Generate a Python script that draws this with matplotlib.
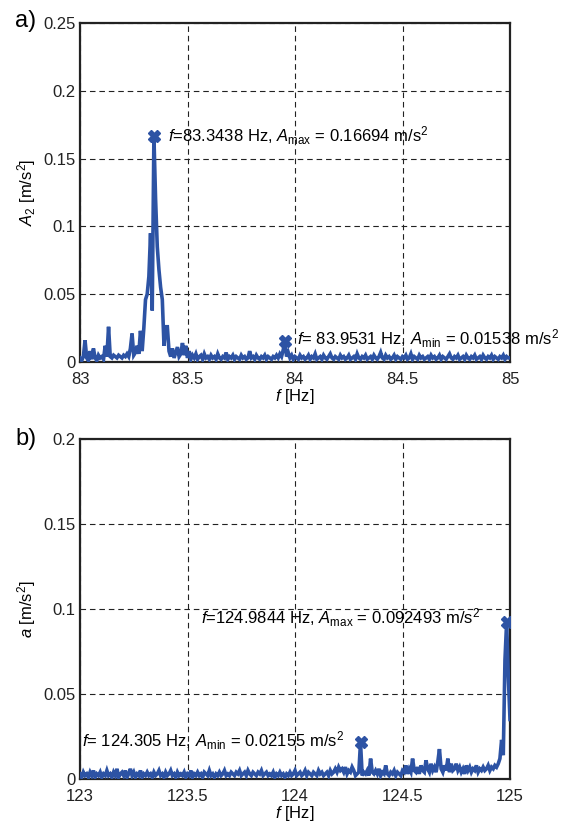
import numpy as np
import matplotlib
matplotlib.use("Agg")
import matplotlib.pyplot as plt

plt.rcParams['font.family'] = ['Liberation Sans', 'DejaVu Sans']
plt.rcParams['mathtext.fontset'] = 'custom'
plt.rcParams['mathtext.rm'] = 'Liberation Sans'
plt.rcParams['mathtext.it'] = 'Liberation Sans:italic'
plt.rcParams['mathtext.bf'] = 'Liberation Sans:bold'

# ---------------- data ----------------
# panel a: 83..85 Hz, step 1/128 Hz, amplitudes in 1e-3 m/s^2
f_a_start, f_a_end = 83.0, 85.0
amp_a_milli = [
    3, 1, 4, 16, 3, 1, 8, 2, 10, 3, 1, 5, 3, 4, 2, 12,
    4, 26, 4, 3, 5, 4, 3, 5, 4, 3, 5, 4, 6, 4, 10, 21,
    5, 7, 12, 6, 23, 8, 25, 46, 50, 63, 95, 38, 166.94, 120, 85, 68,
    55, 46, 12, 26, 26, 8, 4, 10, 3, 7, 11, 4, 6, 14, 5, 12,
    3, 8, 2, 5, 3, 6, 2, 4, 5, 2, 6, 3, 4, 2, 5, 3,
    4, 2, 6, 3, 2, 4, 3, 7, 2, 4, 3, 5, 2, 4, 3, 2,
    5, 3, 4, 2, 3, 8, 3, 4, 2, 5, 3, 2, 4, 3, 5, 2,
    4, 3, 2, 4, 3, 5, 3, 6, 4, 9, 15.38, 4, 7, 3, 5, 2,
    4, 3, 2, 5, 3, 4, 2, 3, 5, 2, 4, 3, 6, 2, 3, 4,
    2, 5, 3, 2, 4, 6, 3, 2, 4, 3, 2, 5, 3, 4, 2, 3,
    5, 2, 3, 4, 2, 6, 3, 2, 4, 3, 5, 2, 3, 4, 2, 5,
    3, 2, 4, 7, 3, 2, 5, 3, 4, 2, 3, 5, 2, 4, 3, 2,
    4, 3, 5, 2, 3, 6, 2, 4, 3, 2, 5, 3, 4, 2, 3, 4,
    2, 5, 3, 4, 2, 3, 5, 2, 4, 3, 2, 4, 6, 3, 2, 4,
    3, 5, 2, 3, 4, 2, 5, 3, 2, 4, 3, 5, 2, 3, 4, 2,
    5, 3, 2, 4, 3, 5, 2, 4, 3, 2, 4, 3, 5, 2, 4, 3,
    3,
]
peak_a = (83.3438, 0.16694)
low_a = (83.9531, 0.01538)

# panel b: 123..125 Hz, step 1/128 Hz, amplitudes in 1e-3 m/s^2
f_b_start, f_b_end = 123.0, 125.0
amp_b_milli = [
    3, 1, 4, 2, 3, 1, 4, 2, 5, 1, 3, 2, 4, 1, 3, 2,
    5, 2, 3, 1, 4, 2, 6, 1, 3, 4, 2, 5, 1, 3, 6, 2,
    4, 1, 3, 2, 5, 1, 3, 2, 4, 2, 3, 1, 4, 2, 3, 5,
    2, 3, 1, 4, 2, 3, 5, 2, 3, 1, 4, 2, 3, 2, 4, 1,
    3, 2, 5, 1, 3, 2, 4, 2, 3, 1, 4, 3, 2, 5, 2, 3,
    1, 3, 2, 4, 2, 3, 5, 2, 3, 2, 4, 3, 2, 4, 3, 5,
    2, 3, 4, 2, 5, 3, 2, 4, 3, 2, 4, 3, 5, 2, 3, 4,
    2, 3, 2, 4, 1, 3, 2, 4, 2, 3, 1, 3, 2, 4, 2, 3,
    5, 2, 3, 4, 2, 3, 5, 2, 4, 3, 2, 4, 3, 2, 5, 3,
    4, 2, 3, 4, 2, 5, 3, 4, 6, 4, 7, 5, 6, 4, 7, 3,
    5, 4, 7, 5, 2, 3, 4, 21.55, 2, 4, 3, 5, 2, 12, 4, 3,
    5, 3, 6, 2, 4, 3, 8, 3, 2, 4, 3, 5, 2, 4, 3, 2,
    5, 4, 8, 3, 6, 4, 12, 5, 4, 7, 3, 8, 5, 4, 11, 6,
    4, 9, 5, 7, 4, 10, 17.6, 6, 4, 8, 5, 12, 4, 9, 5, 6,
    9, 5, 7, 4, 6, 3, 8, 5, 7, 4, 6, 5, 8, 4, 6, 5,
    7, 5, 6, 8, 5, 7, 6, 8, 7, 9, 12, 23, 14, 70, 92.493, 60,
    35,
]
peak_b = (124.9844, 0.092493)
low_b = (124.305, 0.02155)

xticks_a = [83, 83.5, 84, 84.5, 85]
xticklabels_a = ["83", "83.5", "84", "84.5", "85"]
yticks_a = [0, 0.05, 0.1, 0.15, 0.2, 0.25]
yticklabels_a = ["0", "0.05", "0.1", "0.15", "0.2", "0.25"]
xticks_b = [123, 123.5, 124, 124.5, 125]
xticklabels_b = ["123", "123.5", "124", "124.5", "125"]
yticks_b = [0, 0.05, 0.1, 0.15, 0.2]
yticklabels_b = ["0", "0.05", "0.1", "0.15", "0.2"]

# ---------------- style ----------------
BLUE = '#2D53A4'
FS = 12

fig = plt.figure(figsize=(5.62, 8.22), dpi=100)
ax_a = fig.add_axes([80/562, 1 - 362/822, 430/562, 339/822])
ax_b = fig.add_axes([80/562, 1 - 779/822, 430/562, 340/822])


def style(ax, xt, xtl, yt, ytl, xlim, ylim):
    ax.set_xlim(*xlim)
    ax.set_ylim(*ylim)
    ax.set_xticks(xt)
    ax.set_xticklabels(xtl)
    ax.set_yticks(yt)
    ax.set_yticklabels(ytl)
    ax.tick_params(axis='y', length=0, labelsize=FS, pad=3, colors='#222222')
    ax.tick_params(axis='x', length=0, labelsize=FS, pad=7, colors='#222222')
    ax.grid(True, linestyle=(0, (5, 3.5)), color='#222222', linewidth=0.8)
    for s in ax.spines.values():
        s.set_linewidth(1.6)
        s.set_color('#222222')


def plot_panel(ax, f0, f1, vals_milli, peak, low):
    y = np.array(vals_milli) / 1000.0
    x = np.linspace(f0, f1, len(y))
    ax.plot(x, y, color=BLUE, linewidth=2.6, solid_joinstyle='miter', zorder=3)
    ax.plot([peak[0], low[0]], [peak[1], low[1]], linestyle='none', marker='X',
            markersize=9, color=BLUE, zorder=4)


# panel a
plot_panel(ax_a, f_a_start, f_a_end, amp_a_milli, peak_a, low_a)
style(ax_a, xticks_a, xticklabels_a, yticks_a, yticklabels_a, (83, 85), (0, 0.25))
ax_a.set_xlabel(r'$\it{f}$ [Hz]', fontsize=FS, labelpad=0)
ax_a.set_ylabel(r'$\it{A}_{2}$ [m/s$^2$]', fontsize=FS, labelpad=4)
ax_a.annotate(r'$\it{f}$=%.4f Hz, $\it{A}_{\rm max}$ = %.5f m/s$^2$' % peak_a,
              xy=peak_a, xytext=(10, 0), textcoords='offset points',
              ha='left', va='center', fontsize=FS)
ax_a.annotate(r'$\it{f}$= %.4f Hz, $\it{A}_{\rm min}$ = %.5f m/s$^2$' % low_a,
              xy=low_a, xytext=(9, 2), textcoords='offset points',
              ha='left', va='center', fontsize=FS)
fig.text(15/562, 1 - 21/822, 'a)', fontsize=17, va='center', ha='left')

# panel b
plot_panel(ax_b, f_b_start, f_b_end, amp_b_milli, peak_b, low_b)
style(ax_b, xticks_b, xticklabels_b, yticks_b, yticklabels_b, (123, 125), (0, 0.2))
ax_b.set_xlabel(r'$\it{f}$ [Hz]', fontsize=FS, labelpad=0)
ax_b.set_ylabel(r'$\it{a}$ [m/s$^2$]', fontsize=FS, labelpad=4)
ax_b.annotate(r'$\it{f}$=%.4f Hz, $\it{A}_{\rm max}$ = %.6f m/s$^2$' % peak_b,
              xy=peak_b, xytext=(-19, 3), textcoords='offset points',
              ha='right', va='center', fontsize=FS)
ax_b.annotate(r'$\it{f}$= %.3f Hz, $\it{A}_{\rm min}$ = %.5f m/s$^2$' % low_b,
              xy=low_b, xytext=(-12, 1), textcoords='offset points',
              ha='right', va='center', fontsize=FS)
fig.text(15/562, 1 - 439/822, 'b)', fontsize=17, va='center', ha='left')

fig.savefig('out.png', dpi=100)
